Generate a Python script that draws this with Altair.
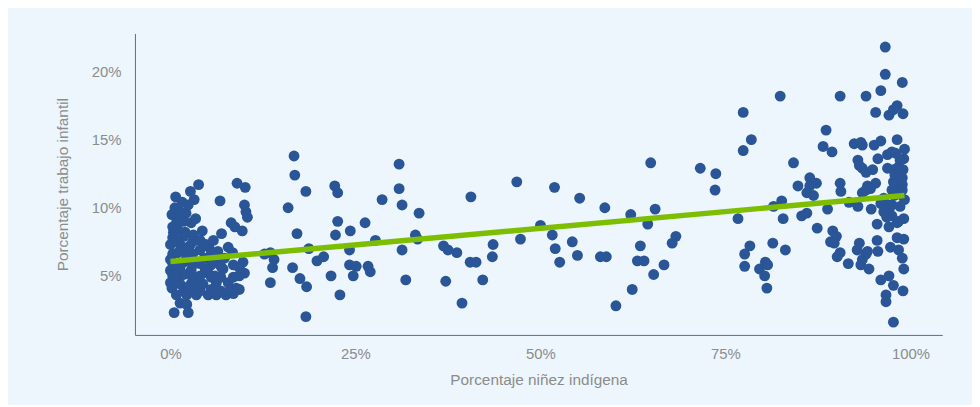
import altair as alt
import pandas as pd

# Percent values
x_left = [0.7, 2.7, 3.2, 3.8, 6.7, 9.0, 10.1, 10.0, 10.2, 10.4,
          0.6, 0.2, 1.3, 2.1, 2.8, 0.8, 0.4, 2.0, 3.1, 4.3,
          6.9, 8.2, 8.7, 9.7, 0.0, 1.3, 2.6, 5.2, 7.8, 6.4,
          8.4, 0.0, 2.2, 4.6, 6.4, 9.8, 0.0, 1.3, 2.8, 5.1,
          7.1, 10.0, 0.0, 1.3, 2.8, 4.4, 6.2, 7.8, 8.9, 0.2,
          2.4, 0.8, 2.2, 3.5, 5.1, 6.2, 7.5, 1.3, 2.2, 0.5, 2.4,
          0.3, 0.3, 0.3, 0.3, 0.3, 1.0, 1.0, 1.0, 1.0, 1.0, 1.0,
          1.8, 1.8, 1.8, 1.8, 1.8, 1.8, 3.0, 3.0, 3.0, 3.0,
          4.0, 4.0, 4.0, 4.0, 4.0, 5.5, 5.5, 5.5, 5.5, 6.8, 6.8, 6.8,
          8.5, 8.5, 8.5, 9.3, 9.3, 9.3, 4.8, 3.4, 2.4, 1.6, 5.8,
          2.5, 3.6, 4.7, 6.0, 7.3, 8.1]
y_left = [10.8, 11.2, 10.6, 11.7, 10.5, 11.8, 11.5, 10.2, 9.7, 9.3,
          10.0, 9.5, 9.7, 9.6, 8.9, 8.9, 8.2, 8.2, 8.0, 8.3,
          8.1, 8.9, 8.6, 8.3, 7.3, 7.3, 7.2, 7.1, 7.1, 6.8,
          6.7, 6.2, 6.3, 6.3, 6.2, 6.0, 5.4, 5.5, 5.4, 5.2,
          5.5, 5.2, 4.5, 4.4, 4.4, 4.4, 4.5, 4.5, 4.1, 4.1,
          4.2, 3.6, 3.6, 3.6, 3.6, 3.6, 3.6, 3.0, 2.9, 2.3, 2.3,
          5.0, 5.9, 6.6, 7.8, 8.6, 4.8, 5.8, 6.7, 7.6, 8.4, 9.2,
          3.9, 5.1, 6.0, 6.9, 7.9, 9.0, 4.8, 5.8, 6.6, 7.5,
          3.9, 5.0, 5.9, 6.9, 7.6, 4.0, 4.9, 5.8, 6.6, 3.9, 4.9, 5.7,
          3.7, 4.9, 5.8, 4.0, 5.0, 5.6, 7.3, 9.2, 10.2, 10.4, 7.6,
          4.0, 4.3, 5.5, 5.0, 6.3, 4.0]

x_mid = [13.5, 13.8, 14.0, 12.7, 13.5,
         16.7, 16.8, 18.3, 15.9, 17.1, 16.5, 17.5, 18.4, 18.3, 18.7,
         19.8, 20.7, 21.7, 22.9, 22.2, 22.6, 22.6, 22.3, 24.3, 26.3,
         24.2, 24.2, 25.1, 24.7, 26.7, 27.0, 27.7, 28.6,
         30.9, 30.9, 31.3, 31.3, 31.8, 33.6, 33.1, 33.4,
         36.9, 37.5, 38.7, 40.6, 40.5, 41.3, 37.2, 39.4, 42.2,
         43.6, 43.5, 46.8, 47.3, 50.0, 51.9, 51.6, 52.0, 52.6, 54.3,
         55.0, 55.3, 58.1, 58.9, 58.7, 60.2, 62.2, 62.4, 63.5, 63.1,
         64.0, 64.5, 64.9, 65.5, 65.3, 66.7, 68.3, 67.8]
y_mid = [4.5, 5.6, 6.2, 6.6, 6.7,
         13.8, 12.4, 11.2, 10.0, 8.1, 5.6, 4.8, 4.2, 2.0, 7.0,
         6.1, 6.4, 5.0, 3.6, 11.6, 11.1, 9.0, 8.0, 8.3, 8.9,
         6.9, 5.8, 5.7, 5.0, 5.7, 5.3, 7.6, 10.6,
         13.2, 11.4, 10.2, 6.9, 4.7, 9.6, 8.0, 7.7,
         7.2, 6.9, 6.7, 10.8, 6.0, 6.0, 4.6, 3.0, 4.7,
         7.3, 6.4, 11.9, 7.7, 8.7, 11.5, 8.0, 7.0, 6.0, 7.5,
         6.5, 10.7, 6.4, 6.4, 10.0, 2.8, 9.5, 4.0, 7.2, 6.1,
         6.1, 8.8, 13.3, 9.9, 5.1, 5.8, 7.9, 7.4]

x_right = [71.6, 73.7, 73.6, 76.7, 77.4, 78.5, 77.4, 78.3, 77.6, 77.6,
           81.4, 83.1, 79.6, 80.4, 80.7, 80.3, 80.6, 81.5, 82.6, 82.8,
           82.4, 84.2, 84.8, 86.4, 87.3, 86.0, 86.9, 86.4, 85.3, 86.0,
           87.4, 88.6, 88.2, 89.4, 88.8, 90.5, 90.6, 89.5, 90.0, 89.2,
           89.7, 90.5, 90.1, 91.6, 90.5, 91.7, 92.9,
           92.4, 93.3, 93.5, 92.9, 93.1, 93.5, 94.0, 94.9,
           93.5, 94.2, 95.3, 94.6, 94.0, 94.7,
           93.1, 92.8, 94.2, 93.5, 93.3, 94.4, 94.0,
           95.5, 95.5, 95.6, 94.0, 95.3, 95.1, 96.0,
           95.6, 96.9, 97.5, 96.0, 96.6, 96.6, 98.9,
           98.2, 97.1, 99.0, 97.7, 98.2,
           96.9, 97.7, 98.4, 99.1, 98.7, 97.7, 98.7, 97.5, 98.9, 98.9, 98.9,
           96.4, 96.9, 96.4, 97.1, 99.2, 96.0, 97.5,
           97.5, 99.1, 98.4, 97.1, 98.2,
           98.2, 99.1, 97.3, 98.4, 98.9, 99.1,
           96.0, 97.1, 97.7, 99.0, 96.7, 96.7, 97.7,
           98.0, 98.6, 99.0, 97.9, 98.5, 99.2, 97.8, 98.6, 96.8]
y_right = [12.9, 12.5, 11.3, 9.2, 17.0, 15.0, 14.2, 7.2, 6.6, 5.7,
           7.4, 6.9, 5.5, 6.0, 5.8, 5.0, 4.1, 10.1, 10.5, 9.2,
           18.2, 13.3, 11.6, 12.2, 11.8, 11.1, 10.9, 11.6, 9.4, 9.6,
           8.5, 15.7, 14.5, 14.1, 9.9, 11.8, 11.2, 8.3, 7.9, 7.5,
           7.4, 6.7, 6.4, 5.9, 18.2, 10.4, 10.1,
           14.7, 14.8, 14.6, 13.5, 13.1, 12.9, 12.6, 12.8,
           11.1, 11.6, 11.8, 11.4, 11.3, 9.9,
           7.4, 6.9, 6.8, 6.2, 5.8, 5.5, 6.6,
           8.8, 7.6, 6.8, 18.2, 17.0, 14.6, 14.9,
           13.6, 13.9, 14.1, 18.6, 19.8, 21.8, 19.2,
           17.5, 16.8, 16.9, 17.2, 15.0,
           12.9, 12.8, 13.0, 13.6, 12.3, 11.9, 11.5, 11.3, 11.3, 12.2, 11.7,
           10.7, 10.2, 9.7, 9.8, 10.6, 10.3, 10.2,
           9.4, 9.2, 9.0, 8.6, 8.9,
           7.8, 7.7, 7.1, 6.9, 6.3, 5.5,
           4.7, 5.0, 4.3, 3.9, 3.6, 3.1, 1.6,
           14.0, 13.5, 12.8, 12.4, 11.0, 14.3, 10.9, 10.1, 9.3]

# Fitted line end points (percent)
line_x = [0.0, 99.2]
line_y = [6.05, 10.9]

x_ticks = [0, 25, 50, 75, 100]
y_ticks = [5, 10, 15, 20]

pts = pd.DataFrame({"x": x_left + x_mid + x_right, "y": y_left + y_mid + y_right})
line_df = pd.DataFrame({"x": line_x, "y": line_y})

FONT = "Liberation Sans Narrow, Arial Narrow, Liberation Sans, sans-serif"
GREY = "#8C8C8C"
AXIS_BLUE = "#4A6CB3"

xscale = alt.Scale(domain=[-4.8, 104.3], nice=False, zero=False)
yscale = alt.Scale(domain=[0.66, 22.8], nice=False, zero=False)

xaxis = alt.Axis(values=x_ticks, labelExpr="datum.value + '%'",
                 title="Porcentaje niñez indígena", ticks=False, grid=False,
                 domainColor=AXIS_BLUE, domainWidth=1,
                 labelColor=GREY, labelFont=FONT, labelFontSize=15, labelPadding=12,
                 titleColor=GREY, titleFont=FONT, titleFontSize=15.5, titleFontWeight="normal",
                 titleX=407, titleY=45, titleBaseline="middle")
yaxis = alt.Axis(values=y_ticks, labelExpr="datum.value + '%'",
                 title="Porcentaje trabajo infantil", ticks=False, grid=False,
                 domainColor=AXIS_BLUE, domainWidth=1,
                 labelColor=GREY, labelFont=FONT, labelFontSize=15, labelPadding=14,
                 titleColor=GREY, titleFont=FONT, titleFontSize=15.5, titleFontWeight="normal",
                 titleX=-73, titleY=152, titleBaseline="middle", titleAlign="center")

points = alt.Chart(pts).mark_circle(size=120, opacity=1, color="#2A5597").encode(
    x=alt.X("x:Q", scale=xscale, axis=xaxis),
    y=alt.Y("y:Q", scale=yscale, axis=yaxis),
)

line = alt.Chart(line_df).mark_line(color="#7DBE00", strokeWidth=5.5).encode(
    x=alt.X("x:Q", scale=xscale),
    y=alt.Y("y:Q", scale=yscale),
)

chart = alt.layer(points, line).properties(
    width=814, height=304,
    autosize=alt.AutoSizeParams(type="none"),
    padding={"left": 128, "top": 24, "right": 30, "bottom": 69},
    background="#ECF6FC",
).configure_view(stroke=None)

chart.save("out.html", embed_options={"renderer": "svg", "actions": False})
